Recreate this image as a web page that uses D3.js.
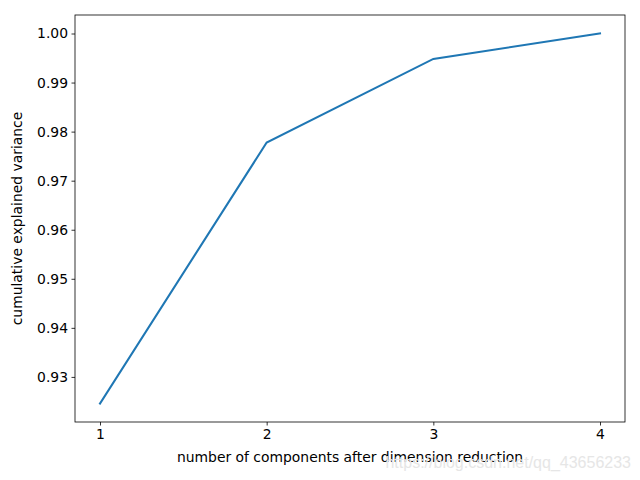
<!DOCTYPE html>
<html>
<head>
<meta charset="utf-8">
<script src="https://cdn.jsdelivr.net/npm/d3@7"></script>
<style>
  body { margin: 0; background: #fff; }
  text { font-family: "DejaVu Sans", sans-serif; }
</style>
</head>
<body>
<svg id="chart" width="640" height="480"></svg>
<script>
// number of components vs cumulative explained variance
var components = [1, 2, 3, 4]
var cumVariance = [0.92458, 0.97778, 0.99482, 1.0]
var yTicks = [0.93, 0.94, 0.95, 0.96, 0.97, 0.98, 0.99, 1.00]

var margin = { top: 15, left: 75, bottom: 58, right: 15 }
var svg = d3.select("#chart")
var width = 640 - margin.left - margin.right
var height = 480 - margin.top - margin.bottom

// matplotlib style 5% padding around data
var xPad = (d3.max(components) - d3.min(components)) * 0.05
var yPad = (d3.max(cumVariance) - d3.min(cumVariance)) * 0.05
var X_scale = d3.scaleLinear()
    .domain([d3.min(components) - xPad, d3.max(components) + xPad])
    .range([0, width])
var Y_scale = d3.scaleLinear()
    .domain([d3.min(cumVariance) - yPad, d3.max(cumVariance) + yPad])
    .range([height, 0])

var g = svg.append("g")
    .attr("transform", `translate(${margin.left},${margin.top})`)

var xAxis = g.append("g")
    .attr("transform", `translate(0, ${height})`)
    .call(d3.axisBottom(X_scale).tickValues(components).tickSize(3.5).tickPadding(3.5).tickFormat(d3.format("d")))
var yAxis = g.append("g")
    .call(d3.axisLeft(Y_scale).tickValues(yTicks).tickSize(3.5).tickPadding(3.5).tickFormat(d3.format(".2f")))

;[xAxis, yAxis].forEach(function (a) {
    a.select(".domain").remove()
    a.selectAll("line").attr("stroke", "#000").attr("stroke-width", 0.8)
    a.selectAll("text").attr("fill", "#000").style("font-size", "13.9px").style("font-family", "DejaVu Sans")
})

var line = d3.line()
    .x(function (d, i) { return X_scale(components[i]) })
    .y(function (d) { return Y_scale(d) })

g.append("path")
    .datum(cumVariance)
    .attr("d", line)
    .attr("fill", "none")
    .attr("stroke", "#1f77b4")
    .attr("stroke-width", 2.08)
    .attr("stroke-linecap", "square")

// frame
g.append("rect")
    .attr("width", width)
    .attr("height", height)
    .attr("fill", "none")
    .attr("stroke", "#000")
    .attr("stroke-width", 0.8)

g.append("text")
    .attr("x", width / 2)
    .attr("y", height + 40)
    .attr("text-anchor", "middle")
    .style("font-size", "13.9px")
    .text("number of components after dimension reduction")

g.append("text")
    .attr("transform", `translate(-53, ${height / 2}) rotate(-90)`)
    .attr("text-anchor", "middle")
    .style("font-size", "13.9px")
    .text("cumulative explained variance")

// watermark
svg.append("text")
    .attr("x", 631)
    .attr("y", 468)
    .attr("text-anchor", "end")
    .style("font-family", "Liberation Sans, Arial, sans-serif")
    .style("font-size", "16px")
    .attr("fill", "#e6e6e6")
    .text("https://blog.csdn.net/qq_43656233")
</script>
</body>
</html>
